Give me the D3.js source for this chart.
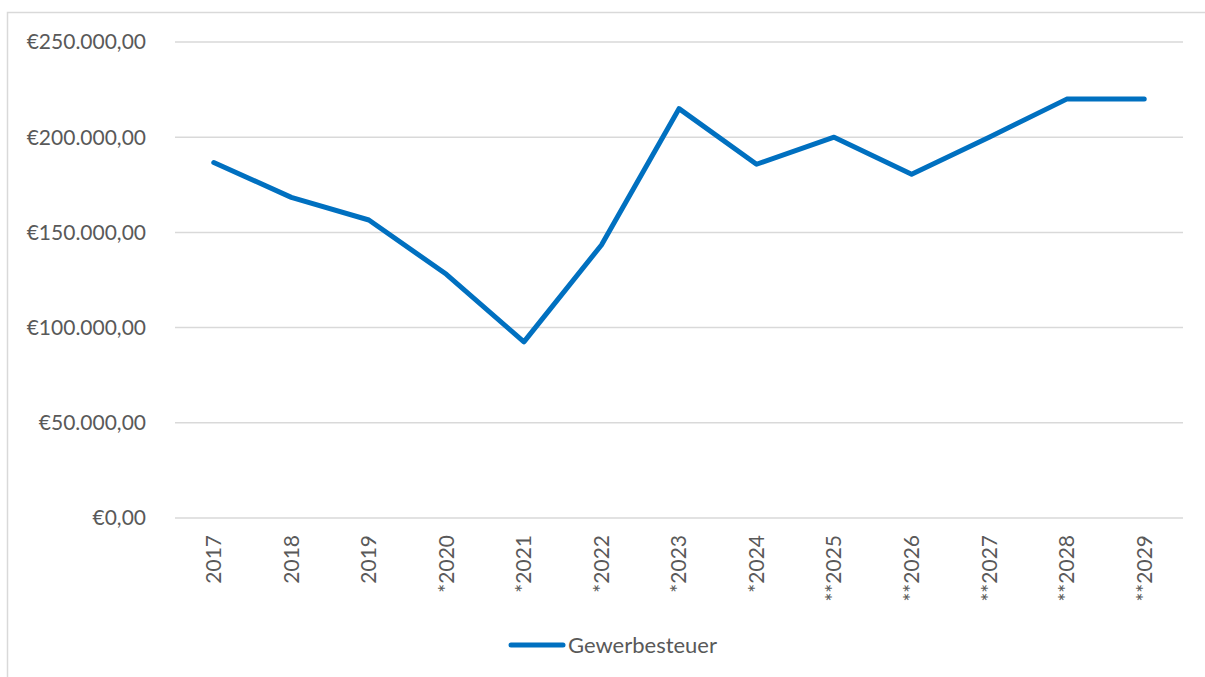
<!DOCTYPE html>
<html>
<head>
<meta charset="utf-8">
<script src="https://cdn.jsdelivr.net/npm/d3@7"></script>
<style>
  body { margin: 0; background: #fff; }
  text { font-family: Lato, "Open Sans", sans-serif; fill: #595959; }
</style>
</head>
<body>
<div id="chart"></div>
<script>
const width = 1205;
const height = 677;

// data
const years = ["2017", "2018", "2019", "*2020", "*2021", "*2022", "*2023",
  "*2024", "**2025", "**2026", "**2027", "**2028", "**2029"];
const gewerbesteuer = [186700, 168400, 156500, 128000, 92500, 143400, 215000,
  185800, 200000, 180600, 200000, 220000, 220000];
const yTicks = [0, 50000, 100000, 150000, 200000, 250000];
const seriesName = "Gewerbesteuer";

const margin = {top: 42, right: 22, bottom: 159, left: 175};

const svg = d3.select("#chart").append("svg")
  .attr("width", width)
  .attr("height", height);

// chart frame
svg.append("rect")
  .attr("x", 7.5).attr("y", 12.5)
  .attr("width", 1210).attr("height", 680)
  .attr("fill", "none")
  .attr("stroke", "#d9d9d9")
  .attr("stroke-width", 1.5);

const x = d3.scaleBand()
  .domain(years)
  .range([margin.left, width - margin.right]);

const y = d3.scaleLinear()
  .domain([0, 250000])
  .range([height - margin.bottom, margin.top]);

const fmt = v => "€" + d3.format(",.2f")(v).replace(/,/g, "#").replace(/\./g, ",").replace(/#/g, ".");

// gridlines
svg.append("g")
  .selectAll("line")
  .data(yTicks)
  .join("line")
  .attr("x1", margin.left)
  .attr("x2", width - margin.right)
  .attr("y1", d => y(d))
  .attr("y2", d => y(d))
  .attr("stroke", "#d9d9d9")
  .attr("stroke-width", 1.5);

// y labels
svg.append("g")
  .selectAll("text")
  .data(yTicks)
  .join("text")
  .attr("x", 146)
  .attr("y", d => y(d))
  .attr("dy", "0.35em")
  .attr("text-anchor", "end")
  .style("font-size", "21px")
  .text(fmt);

// x labels, rotated
svg.append("g")
  .selectAll("text")
  .data(years)
  .join("text")
  .attr("transform", d => "translate(" + (x(d) + x.bandwidth() / 2) + "," + 535 + ") rotate(-90)")
  .attr("dy", "0.35em")
  .attr("text-anchor", "end")
  .style("font-size", "21px")
  .text(d => d);

const line = d3.line()
  .x((d, i) => x(years[i]) + x.bandwidth() / 2)
  .y(d => y(d));

svg.append("path")
  .datum(gewerbesteuer)
  .attr("d", line)
  .attr("fill", "none")
  .attr("stroke", "#0070c0")
  .attr("stroke-width", 5)
  .attr("stroke-linejoin", "round")
  .attr("stroke-linecap", "round");

// legend
const legend = svg.append("g").attr("transform", "translate(511,645)");
legend.append("line")
  .attr("x1", 0).attr("x2", 52)
  .attr("stroke", "#0070c0")
  .attr("stroke-width", 5)
  .attr("stroke-linecap", "round");
legend.append("text")
  .attr("x", 57)
  .attr("dy", "0.35em")
  .style("font-size", "22px")
  .text(seriesName);
</script>
</body>
</html>
